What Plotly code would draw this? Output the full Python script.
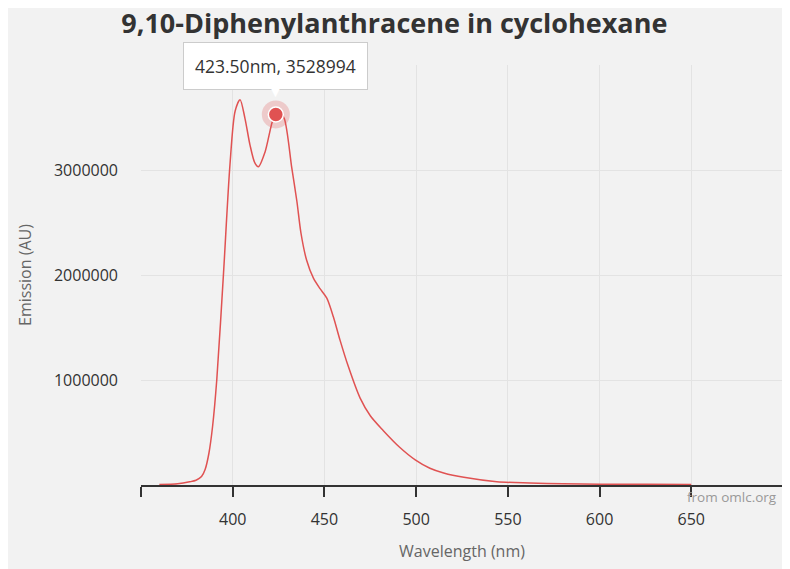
import plotly.graph_objects as go

# dati dello spettro di emissione
wavelength = [360, 370, 376.5, 380, 383, 385, 387, 389, 391.3, 395, 398.5, 401.3, 404, 406.7,
              409.4, 412, 414, 417.6, 421.6, 423.5, 425.5, 428.1, 432.2, 435, 437.2, 440.3,
              444, 447.6, 451.3, 454.9, 458.5, 463, 469.4, 475, 482, 491, 499.5, 507.5, 515,
              526, 544, 562, 580, 600, 625, 650]
emission = [5000, 12000, 30000, 45000, 80000, 150000, 300000, 555000, 1000000, 2020000,
            3050000, 3560000, 3670000, 3490000, 3240000, 3070000, 3030000, 3170000, 3460000,
            3528994, 3550000, 3490000, 3020000, 2700000, 2400000, 2140000, 1970000, 1870000,
            1780000, 1600000, 1380000, 1130000, 830000, 660000, 520000, 360000, 240000, 160000,
            115000, 73000, 31000, 19000, 12000, 8000, 6000, 5000]

# punto evidenziato dal tooltip
hover_wl = 423.5
hover_val = 3528994

x_ticks = [350, 400, 450, 500, 550, 600, 650, 700]
x_ticktext = ['', '400', '450', '500', '550', '600', '650', '']
y_ticks = [0, 1000000, 2000000, 3000000, 4000000]
y_ticktext = ['', '1000000', '2000000', '3000000', '']

red = '#e05252'
font = 'Open Sans, Noto Sans, sans-serif'

fig = go.Figure()
fig.add_trace(go.Scatter(x=wavelength, y=emission, mode='lines',
                         line=dict(color=red, width=1.5, shape='spline', smoothing=0.8),
                         hoverinfo='skip'))
# alone e marker del punto selezionato
fig.add_trace(go.Scatter(x=[hover_wl], y=[hover_val], mode='markers',
                         marker=dict(size=28, color='rgba(224,82,82,0.25)'), hoverinfo='skip'))
fig.add_trace(go.Scatter(x=[hover_wl], y=[hover_val], mode='markers',
                         marker=dict(size=15, color=red, line=dict(color='white', width=1.5)),
                         hoverinfo='skip'))

# tooltip (riquadro + punta)
fig.add_annotation(x=hover_wl, y=hover_val, xref='x', yref='y',
                   text='%.2fnm, %d' % (hover_wl, hover_val),
                   showarrow=False, yanchor='bottom', yshift=24, bgcolor='white',
                   bordercolor='#cccccc', borderwidth=1, borderpad=11,
                   font=dict(family=font, size=17.5, color='#333333'))
fig.add_annotation(x=hover_wl, y=hover_val, xref='x', yref='y', text='▼', showarrow=False,
                   yanchor='bottom', yshift=11, font=dict(size=15, color='white'))

fig.add_annotation(x=1, y=0, xref='paper', yref='paper', xanchor='right', yanchor='top',
                   xshift=-4, yshift=-1, text='from omlc.org', showarrow=False,
                   font=dict(family=font, size=13.5, color='#999999'))

# la pagina ha un margine di 8px: figura 782x561 spostata di 8px
fig.update_layout(
    width=782, height=561,
    margin=dict(l=133, r=7, t=57, b=84),
    paper_bgcolor='#f2f2f2', plot_bgcolor='#f2f2f2',
    showlegend=False,
    title=dict(text='<b>9,10-Diphenylanthracene in cyclohexane</b>', x=0.494, xanchor='center',
               y=0.973, yanchor='middle', font=dict(family=font, size=27, color='#333333')),
    xaxis=dict(range=[350, 700], tickvals=x_ticks, ticktext=x_ticktext,
               showgrid=True, gridcolor='#e3e3e3', gridwidth=1, zeroline=False,
               showline=True, linecolor='#333333', linewidth=1.5,
               ticks='outside', ticklen=10, tickcolor='#333333', tickwidth=1.5,
               ticklabelstandoff=9,
               tickfont=dict(family=font, size=16, color='#333333'),
               title=dict(text='Wavelength (nm)', standoff=17,
                          font=dict(family=font, size=16, color='#666666'))),
    yaxis=dict(range=[0, 4000000], tickvals=y_ticks, ticktext=y_ticktext,
               showgrid=True, gridcolor='#e3e3e3', gridwidth=1, zeroline=False,
               showline=False, ticks='', ticklabelstandoff=22,
               tickfont=dict(family=font, size=16, color='#333333'),
               title=dict(text='Emission (AU)', standoff=18,
                          font=dict(family=font, size=16, color='#666666'))),
)

fig.write_html('out.html')
